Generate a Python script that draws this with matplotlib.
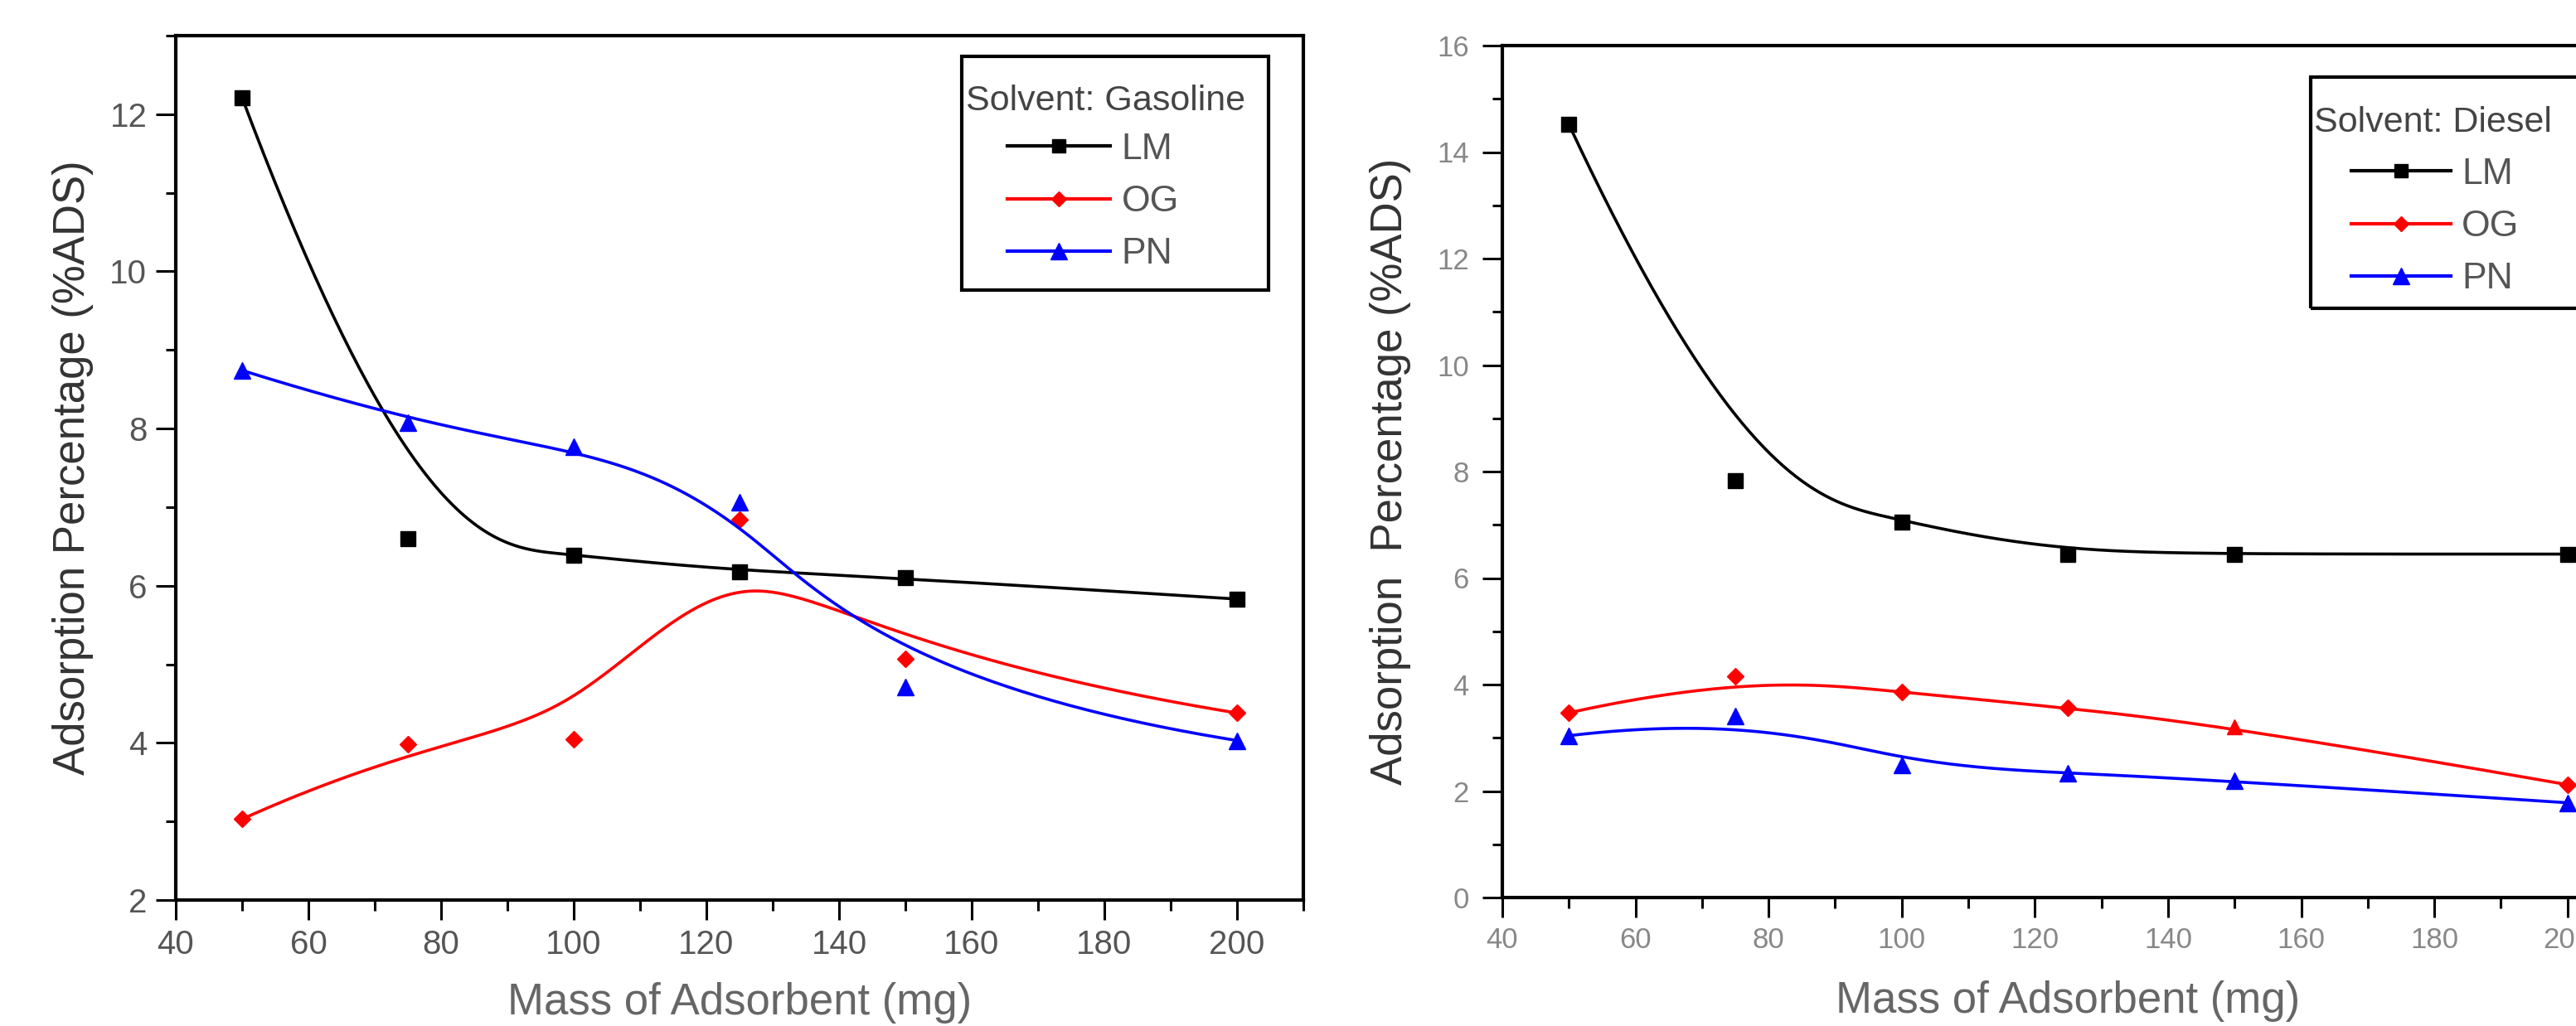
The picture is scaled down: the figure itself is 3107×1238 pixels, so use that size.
import numpy as np
import matplotlib
matplotlib.use("Agg")
import matplotlib.pyplot as plt
from matplotlib.lines import Line2D
from matplotlib.patches import Rectangle
from matplotlib.ticker import MultipleLocator

plt.rcParams['font.family'] = ['Liberation Sans', 'DejaVu Sans']

# data
mass = [50, 75, 100, 125, 150, 200]

gas_lm = [12.21, 6.60, 6.39, 6.18, 6.10, 5.83]
gas_og = [3.03, 3.98, 4.05, 6.84, 5.07, 4.38]
gas_pn = [8.74, 8.08, 7.77, 7.06, 4.71, 4.03]

dsl_lm = [14.52, 7.83, 7.05, 6.45, 6.45, 6.45]
dsl_og = [3.47, 4.16, 3.86, 3.56, 3.21, 2.12]
dsl_pn = [3.04, 3.41, 2.49, 2.34, 2.19, 1.78]
# one OG point on the diesel panel is drawn with a triangle in the original
dsl_og_markers = ['D', 'D', 'D', 'D', '^', 'D']

series_names = ['LM', 'OG', 'PN']
colors = ['black', 'red', 'blue']
markers = ['s', 'D', '^']
msizes = [13, 10, 15]

W, H = 3107, 1238


def bspline(xs, ys, n=400):
    """clamped cubic B-spline on the points (like Origin's B-Spline line)"""
    pts = np.column_stack([xs, ys]).astype(float)
    k = 3
    m = len(pts)
    t = np.concatenate([np.zeros(k), np.arange(m - k + 1), np.full(k, m - k)]).astype(float)
    u = np.linspace(0, m - k, n)
    u[-1] -= 1e-9
    N = np.array([(u >= t[i]) & (u < t[i + 1]) for i in range(len(t) - 1)], dtype=float)
    for d in range(1, k + 1):
        Nn = np.zeros((len(t) - 1 - d, n))
        for i in range(len(t) - 1 - d):
            den1 = t[i + d] - t[i]
            den2 = t[i + d + 1] - t[i + 1]
            a = (u - t[i]) / den1 * N[i] if den1 > 0 else 0
            b = (t[i + d + 1] - u) / den2 * N[i + 1] if den2 > 0 else 0
            Nn[i] = a + b
        N = Nn
    c = N.T @ pts
    return c[:, 0], c[:, 1]


def style_axes(ax, ylim, tick_fs, tick_color, ypad, xpad):
    ax.set_xlim(40, 210)
    ax.set_ylim(*ylim)
    ax.xaxis.set_major_locator(MultipleLocator(20))
    ax.xaxis.set_minor_locator(MultipleLocator(10))
    ax.yaxis.set_major_locator(MultipleLocator(2))
    ax.yaxis.set_minor_locator(MultipleLocator(1))
    ax.tick_params(which='major', direction='out', length=17, width=2.2,
                   labelsize=tick_fs, labelcolor=tick_color)
    ax.tick_params(which='minor', direction='out', length=9, width=2.2)
    ax.tick_params(axis='y', pad=ypad)
    ax.tick_params(axis='x', pad=xpad)
    for s in ax.spines.values():
        s.set_linewidth(3)


def draw_panel(ax, data, og_marks=None):
    for i, ys in enumerate(data):
        cx, cy = bspline(mass, ys)
        ax.plot(cx, cy, color=colors[i], lw=2.6)
        if i == 1 and og_marks is not None:
            for x, y, mk in zip(mass, ys, og_marks):
                ax.plot(x, y, linestyle='none', marker=mk, color=colors[i],
                        markersize=msizes[i] if mk == 'D' else msizes[2] - 2)
        else:
            ax.plot(mass, ys, linestyle='none', marker=markers[i],
                    color=colors[i], markersize=msizes[i])


def add_legend(fig, title, title_xy, entries_xy, box, hlen):
    handles = [Line2D([], [], color=colors[i], marker=markers[i], lw=3,
                      markersize=msizes[i] - 1) for i in range(3)]
    leg = fig.legend(handles, series_names, loc='upper left',
                     bbox_to_anchor=(entries_xy[0] / W, 1 - entries_xy[1] / H),
                     bbox_transform=fig.transFigure,
                     frameon=False, borderpad=0, borderaxespad=0, fontsize=32,
                     labelspacing=0.5, handlelength=hlen, handletextpad=0.3,
                     numpoints=1)
    for txt in leg.get_texts():
        txt.set_color('#555555')
    fig.text(title_xy[0] / W, 1 - title_xy[1] / H, title, fontsize=31,
             color='#444444', ha='left', va='center')
    x0, y0, x1, y1 = box
    fig.add_artist(Rectangle((x0 / W, 1 - y1 / H), (x1 - x0) / W, (y1 - y0) / H,
                             transform=fig.transFigure, fill=False, lw=3,
                             edgecolor='black', clip_on=False))


fig = plt.figure(figsize=(W / 100, H / 100), dpi=100)

ax1 = fig.add_axes([212 / W, 1 - 1086 / H, 1360 / W, 1043 / H])
draw_panel(ax1, [gas_lm, gas_og, gas_pn])
style_axes(ax1, (2, 13), 29, '#555555', 8, 8)
ax1.set_xlabel('Mass of Adsorbent (mg)', fontsize=38, color='#666666', labelpad=19)
ax1.set_ylabel('Adsorption Percentage (%ADS)', fontsize=38, color='#333333', labelpad=14)

ax2 = fig.add_axes([1812 / W, 1 - 1083 / H, 1365 / W, 1028 / H])
draw_panel(ax2, [dsl_lm, dsl_og, dsl_pn], og_marks=dsl_og_markers)
style_axes(ax2, (0, 16), 25, '#888888', 12, 8)
ax2.set_xlabel('Mass of Adsorbent (mg)', fontsize=38, color='#666666', labelpad=23)
ax2.set_ylabel('Adsorption  Percentage (%ADS)', fontsize=38, color='#333333', labelpad=22)

add_legend(fig, 'Solvent: Gasoline', (1165, 122), (1215, 160), (1160, 68, 1530, 350), 2.8)
add_legend(fig, 'Solvent: Diesel', (2791, 148), (2836, 190), (2787, 93, 3120, 372), 2.7)

fig.savefig('out.png', dpi=100)
